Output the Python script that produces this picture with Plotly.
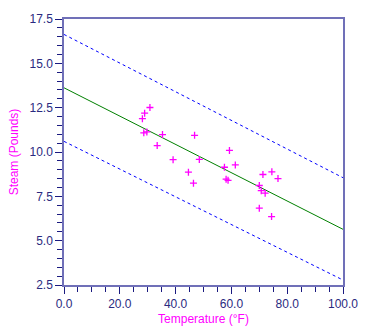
import plotly.graph_objects as go

temperature = [35.3, 29.7, 30.8, 58.8, 61.4, 71.3, 74.4, 76.7, 70.7, 57.5, 46.4, 28.9, 28.1,
               39.1, 46.8, 48.5, 59.3, 70.0, 70.0, 74.5, 72.1, 58.1, 44.6, 33.4, 28.6]
steam = [10.98, 11.13, 12.51, 8.40, 9.27, 8.73, 6.36, 8.50, 7.82, 9.14, 8.24, 12.19, 11.88,
         9.57, 10.94, 9.58, 10.09, 8.11, 6.83, 8.88, 7.68, 8.47, 8.86, 10.36, 11.08]

line_x = [0.0, 100.0]
fit_y = [13.62, 5.64]
upper_y = [16.63, 8.55]
lower_y = [10.60, 2.78]

fig = go.Figure()
fig.add_trace(go.Scatter(x=line_x, y=upper_y, mode="lines",
                         line=dict(color="#0000ff", width=1, dash="dot"), showlegend=False))
fig.add_trace(go.Scatter(x=line_x, y=lower_y, mode="lines",
                         line=dict(color="#0000ff", width=1, dash="dot"), showlegend=False))
fig.add_trace(go.Scatter(x=line_x, y=fit_y, mode="lines",
                         line=dict(color="#008000", width=1), showlegend=False))
fig.add_trace(go.Scatter(x=temperature, y=steam, mode="markers",
                         marker=dict(symbol="cross-thin", size=5, color="#ff00ff",
                                     line=dict(color="#ff00ff", width=1.3)),
                         showlegend=False))

axis_common = dict(
    showgrid=False, zeroline=False, showline=True, mirror=True,
    linecolor="#7070b8", linewidth=1.5,
    ticks="outside", ticklen=7, tickwidth=1, tickcolor="#1a1a80",
    tickfont=dict(family="Liberation Sans, Arial, sans-serif", size=12, color="#2a2a80"),
    tickformat=".1f",
)

fig.update_xaxes(range=[0, 100], tick0=0, dtick=20,
                 minor=dict(dtick=5, ticks="outside", ticklen=5, tickcolor="#1a1a80"),
                 title=dict(text="Temperature (°F)", standoff=4,
                            font=dict(family="Liberation Sans, Arial, sans-serif", size=12, color="#ff00ff")),
                 **axis_common)
fig.update_yaxes(range=[2.5, 17.5], tick0=2.5, dtick=2.5,
                 minor=dict(dtick=0.5, ticks="outside", ticklen=5, tickcolor="#1a1a80"),
                 title=dict(text="Steam (Pounds)", standoff=8,
                            font=dict(family="Liberation Sans, Arial, sans-serif", size=12, color="#ff00ff")),
                 **axis_common)

fig.update_layout(width=370, height=336, margin=dict(l=64, r=25, t=12, b=43),
                  plot_bgcolor="white", paper_bgcolor="white")

fig.write_html("out.html")
